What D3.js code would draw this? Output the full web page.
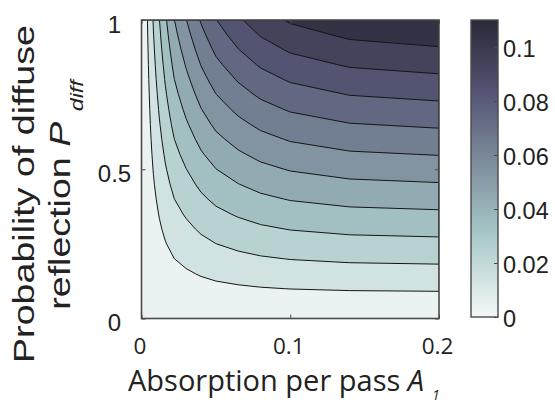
<!DOCTYPE html>
<html><head><meta charset="utf-8">
<script src="https://cdn.jsdelivr.net/npm/d3@7"></script>
<style>body{margin:0;background:#fff} svg{display:block}</style>
</head><body><svg id="chart" width="555" height="406"></svg>
<script>
// ---- data ----
const absorption = [0, 0.002, 0.004, 0.006, 0.008, 0.012, 0.016, 0.022, 0.03, 0.04, 0.05, 0.065, 0.08, 0.1, 0.14, 0.2];
const pdiff = [0, 0.05, 0.1, 0.15, 0.2, 0.25, 0.3, 0.35, 0.4, 0.45, 0.5, 0.55, 0.6, 0.65, 0.7, 0.75, 0.8, 0.85, 0.9, 0.95, 1];
// one row per pdiff value, one column per absorption value
const values = [
 [0, 0, 0, 0, 0, 0, 0, 0, 0, 0, 0, 0, 0, 0, 0, 0],
 [0, 0.00025, 0.0005, 0.00078, 0.00104, 0.00149, 0.00192, 0.00249, 0.00299, 0.00355, 0.00399, 0.00443, 0.00477, 0.00506, 0.00535, 0.00549],
 [0, 0.0005, 0.001, 0.00155, 0.00207, 0.00298, 0.00384, 0.00498, 0.00597, 0.00709, 0.00797, 0.00885, 0.00953, 0.01012, 0.0107, 0.01098],
 [0, 0.00075, 0.0015, 0.00233, 0.00311, 0.00447, 0.00576, 0.00747, 0.00896, 0.01064, 0.01196, 0.01328, 0.0143, 0.01518, 0.01605, 0.01647],
 [0, 0.001, 0.002, 0.0031, 0.00414, 0.00596, 0.00768, 0.00996, 0.01194, 0.01418, 0.01594, 0.0177, 0.01906, 0.02024, 0.0214, 0.02196],
 [0, 0.00125, 0.0025, 0.00388, 0.00518, 0.00745, 0.0096, 0.01245, 0.01493, 0.01773, 0.01993, 0.02213, 0.02383, 0.0253, 0.02675, 0.02745],
 [0, 0.0015, 0.003, 0.00465, 0.00621, 0.00894, 0.01152, 0.01494, 0.01791, 0.02127, 0.02391, 0.02655, 0.02859, 0.03036, 0.0321, 0.03294],
 [0, 0.00175, 0.0035, 0.00543, 0.00725, 0.01043, 0.01344, 0.01743, 0.0209, 0.02482, 0.0279, 0.03098, 0.03336, 0.03542, 0.03745, 0.03843],
 [0, 0.002, 0.004, 0.0062, 0.00828, 0.01192, 0.01536, 0.01992, 0.02388, 0.02836, 0.03188, 0.0354, 0.03812, 0.04048, 0.0428, 0.04392],
 [0, 0.00225, 0.0045, 0.00698, 0.00932, 0.01341, 0.01728, 0.02241, 0.02687, 0.03191, 0.03587, 0.03983, 0.04289, 0.04554, 0.04815, 0.04941],
 [0, 0.0025, 0.005, 0.00775, 0.01035, 0.0149, 0.0192, 0.0249, 0.02985, 0.03545, 0.03985, 0.04425, 0.04765, 0.0506, 0.0535, 0.0549],
 [0, 0.00275, 0.0055, 0.00853, 0.01139, 0.01639, 0.02112, 0.02739, 0.03284, 0.039, 0.04384, 0.04868, 0.05242, 0.05566, 0.05885, 0.06039],
 [0, 0.003, 0.006, 0.0093, 0.01242, 0.01788, 0.02304, 0.02988, 0.03582, 0.04254, 0.04782, 0.0531, 0.05718, 0.06072, 0.0642, 0.06588],
 [0, 0.00325, 0.0065, 0.01008, 0.01346, 0.01937, 0.02496, 0.03237, 0.03881, 0.04609, 0.05181, 0.05753, 0.06195, 0.06578, 0.06955, 0.07137],
 [0, 0.0035, 0.007, 0.01085, 0.01449, 0.02086, 0.02688, 0.03486, 0.04179, 0.04963, 0.05579, 0.06195, 0.06671, 0.07084, 0.0749, 0.07686],
 [0, 0.00375, 0.0075, 0.01163, 0.01553, 0.02235, 0.0288, 0.03735, 0.04478, 0.05318, 0.05978, 0.06638, 0.07148, 0.0759, 0.08025, 0.08235],
 [0, 0.004, 0.008, 0.0124, 0.01656, 0.02384, 0.03072, 0.03984, 0.04776, 0.05672, 0.06376, 0.0708, 0.07624, 0.08096, 0.0856, 0.08784],
 [0, 0.00425, 0.0085, 0.01318, 0.0176, 0.02533, 0.03264, 0.04233, 0.05075, 0.06027, 0.06775, 0.07523, 0.08101, 0.08602, 0.09095, 0.09333],
 [0, 0.0045, 0.009, 0.01395, 0.01863, 0.02682, 0.03456, 0.04482, 0.05373, 0.06381, 0.07173, 0.07965, 0.08577, 0.09108, 0.0963, 0.09882],
 [0, 0.00475, 0.0095, 0.01473, 0.01967, 0.02831, 0.03648, 0.04731, 0.05672, 0.06736, 0.07572, 0.08408, 0.09054, 0.09614, 0.10165, 0.10431],
 [0, 0.005, 0.01, 0.0155, 0.0207, 0.0298, 0.0384, 0.0498, 0.0597, 0.0709, 0.0797, 0.0885, 0.0953, 0.1012, 0.107, 0.1098]
];
const levels = [0.01, 0.02, 0.03, 0.04, 0.05, 0.06, 0.07, 0.08, 0.09, 0.10];
const xTicks = [0, 0.1, 0.2];
const yTicks = [0, 0.5, 1];
const cbTicks = [0, 0.02, 0.04, 0.06, 0.08, 0.1];
const cbDomain = [0, 0.11];

// ---- layout ----
const X0 = 141.5, X1 = 439, Y0 = 20, Y1 = 318.5;
const CB0 = 471, CB1 = 498, CBT = 20, CBB = 317;
const svg = d3.select("#chart");

const x = d3.scaleLinear().domain([0, 0.2]).range([X0, X1]);
const y = d3.scaleLinear().domain([0, 1]).range([Y1, Y0]);

// reversed "bone" colormap
function bone(t) {
  t = Math.max(0, Math.min(1, t));
  const hr = Math.min(1, t * 8 / 3);
  const hg = Math.max(0, Math.min(1, t * 8 / 3 - 1));
  const hb = Math.max(0, Math.min(1, 4 * t - 3));
  return d3.rgb(255 * (7 * t + hb) / 8, 255 * (7 * t + hg) / 8, 255 * (7 * t + hr) / 8);
}
const color = v => bone(0.97 - v / 0.14);
const bandShift = 0.004;

// ---- contours ----
const n = absorption.length, m = pdiff.length;
const flat = values.flat();
const cont = d3.contours().size([n, m]).thresholds(levels)(flat);
const gx = d3.scaleLinear().domain(absorption.map((d, i) => i + 0.5)).range(absorption).clamp(true);
const gy = d3.scaleLinear().domain(pdiff.map((d, j) => j + 0.5)).range(pdiff).clamp(true);
const path = d3.geoPath(d3.geoTransform({
  point(px, py) { this.stream.point(x(gx(px)), y(gy(py))); }
}));

svg.append("defs").append("clipPath").attr("id", "plotclip")
  .append("rect").attr("x", X0).attr("y", Y0).attr("width", X1 - X0).attr("height", Y1 - Y0);

const plot = svg.append("g").attr("clip-path", "url(#plotclip)");
plot.append("rect").attr("x", X0).attr("y", Y0).attr("width", X1 - X0).attr("height", Y1 - Y0)
  .attr("fill", color(bandShift));
plot.selectAll("path.band").data(cont).join("path").attr("class", "band")
  .attr("d", path).attr("fill", d => color(d.value + bandShift)).attr("stroke", "none");
plot.selectAll("path.line").data(cont).join("path").attr("class", "line")
  .attr("d", path).attr("fill", "none").attr("stroke", "#151515").attr("stroke-width", 1);

// ---- axes ----
const axisColor = "#4a4a4a";
function styleAxis(g) {
  g.select(".domain").remove();
  g.selectAll(".tick line").attr("stroke", axisColor).attr("stroke-width", 1);
}
const bottom = svg.append("g").attr("transform", `translate(0,${Y1})`)
  .call(d3.axisBottom(x).tickValues(xTicks).tickSize(-4).tickFormat(d => String(d)));
styleAxis(bottom);
bottom.selectAll("text").attr("y", 35).attr("dy", 0).attr("dx", -2)
  .attr("font-family", "'Open Sans', sans-serif").attr("font-size", 22.5).attr("fill", "#222");
svg.append("g").attr("transform", `translate(0,${Y0})`)
  .call(d3.axisTop(x).tickValues(xTicks).tickSize(-4).tickFormat(""))
  .call(styleAxis);
const left = svg.append("g").attr("transform", `translate(${X0},0)`)
  .call(d3.axisLeft(y).tickValues(yTicks).tickSize(-4).tickFormat(d => String(d)));
styleAxis(left);
left.selectAll("text").attr("x", -27).attr("dy", "0.5em").attr("text-anchor", "middle")
  .attr("font-family", "'Liberation Sans', Arial, sans-serif").attr("font-size", 24).attr("fill", "#222");
svg.append("g").attr("transform", `translate(${X1},0)`)
  .call(d3.axisRight(y).tickValues(yTicks).tickSize(-4).tickFormat(""))
  .call(styleAxis);

svg.append("rect").attr("x", X0).attr("y", Y0).attr("width", X1 - X0).attr("height", Y1 - Y0)
  .attr("fill", "none").attr("stroke", axisColor).attr("stroke-width", 1.6);

// ---- colorbar ----
const cy = d3.scaleLinear().domain(cbDomain).range([CBB, CBT]);
const grad = svg.select("defs").append("linearGradient").attr("id", "cbgrad")
  .attr("x1", 0).attr("y1", 1).attr("x2", 0).attr("y2", 0);
d3.range(0, 1.0001, 0.02).forEach(f => {
  grad.append("stop").attr("offset", f).attr("stop-color", color(cbDomain[0] + f * (cbDomain[1] - cbDomain[0])));
});
svg.append("rect").attr("x", CB0).attr("y", CBT).attr("width", CB1 - CB0).attr("height", CBB - CBT)
  .attr("fill", "url(#cbgrad)");
const cbAxis = svg.append("g").attr("transform", `translate(${CB1},0)`)
  .call(d3.axisRight(cy).tickValues(cbTicks).tickSize(-4).tickFormat(d => String(+d.toFixed(2))));
styleAxis(cbAxis);
cbAxis.selectAll("text").attr("x", 5).attr("dy", "0.4em")
  .attr("font-family", "'Liberation Sans', Arial, sans-serif").attr("font-size", 23.5).attr("fill", "#222");
svg.append("rect").attr("x", CB0).attr("y", CBT).attr("width", CB1 - CB0).attr("height", CBB - CBT)
  .attr("fill", "none").attr("stroke", axisColor).attr("stroke-width", 1.4);

// ---- axis titles ----
const xl = svg.append("text").attr("x", 128).attr("y", 391)
  .attr("font-family", "'Open Sans', sans-serif").attr("font-size", 29).attr("fill", "#222");
xl.append("tspan").text("Absorption per pass ");
xl.append("tspan").attr("font-style", "italic").text("A");
xl.append("tspan").attr("font-style", "italic").attr("font-size", 14).attr("dx", 8).attr("dy", 9).text("1");

const ylFont = 29;
const g1 = svg.append("g").attr("transform", "translate(34,194) rotate(-90)");
const t1 = g1.append("text").attr("text-anchor", "middle")
  .attr("font-family", "'Liberation Sans', Arial, sans-serif").attr("font-size", ylFont).attr("fill", "#222")
  .text("Probability of diffuse");
const stretch = 338 / t1.node().getComputedTextLength();
t1.attr("transform", `scale(${stretch},1)`);

const g2 = svg.append("g").attr("transform", "translate(70,195) rotate(-90)");
const t2 = g2.append("text").attr("text-anchor", "middle")
  .attr("font-family", "'Liberation Sans', Arial, sans-serif").attr("font-size", ylFont).attr("fill", "#222")
  .attr("transform", `scale(${stretch},1)`);
t2.append("tspan").text("reflection ");
t2.append("tspan").attr("font-style", "italic").text("P");
t2.append("tspan").attr("font-style", "italic").attr("font-size", 18).attr("dx", 8).attr("dy", 13).text("diff");
</script>
</body></html>
